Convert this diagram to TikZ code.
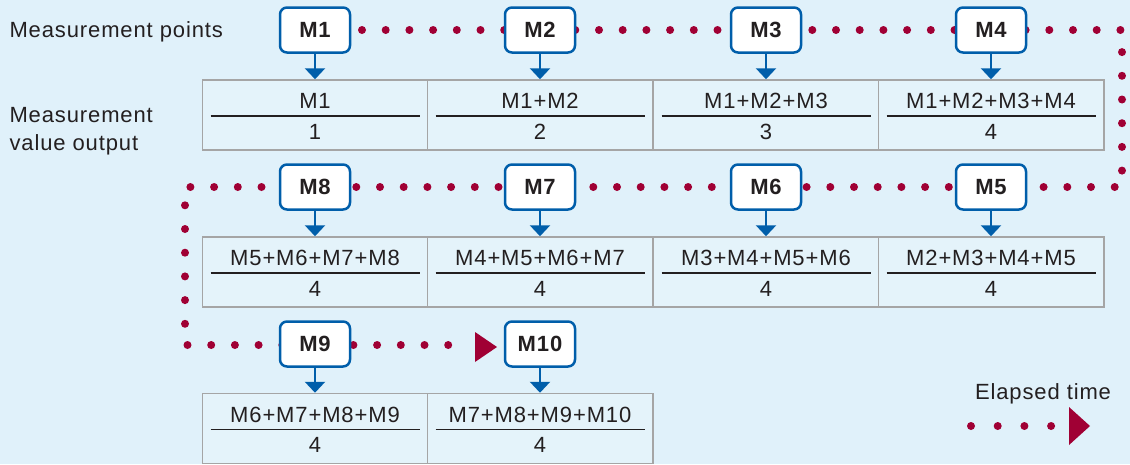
\documentclass[tikz,border=0pt]{standalone}
\usepackage{fontspec}
\setmainfont{Liberation Sans}[LetterSpace=4]
\usetikzlibrary{arrows.meta}
\definecolor{bgblue}{RGB}{224,241,250}
\definecolor{cellblue}{RGB}{228,243,250}
\definecolor{mblue}{RGB}{0,94,170}
\definecolor{dotred}{RGB}{160,0,52}
\definecolor{cellgray}{RGB}{165,165,165}
\definecolor{ink}{RGB}{35,31,32}
\pgfdeclarelayer{backfill}
\pgfdeclarelayer{timeline}
\pgfsetlayers{backfill,timeline,main}

\tikzset{
  mpoint/.style={draw=mblue, line width=2.5pt, fill=white, rounded corners=7pt,
    minimum width=70pt, minimum height=45pt, inner sep=0pt,
    font=\fontsize{22}{28}\selectfont\bfseries},
  cell/.style={draw=cellgray, line width=1.5pt, fill=cellblue,
    minimum width=225.5pt, minimum height=70pt},
  fracline/.style={draw=ink, line width=1.4pt},
  drop/.style={draw=mblue, line width=2.5pt, -{Triangle[width=20pt,length=11pt]}},
  timedots/.style={draw=dotred, line width=8pt, line cap=round, dash pattern=on 0pt off 23.7pt},
}

% one output cell: name, centre, numerator, denominator
\newcommand{\avgcell}[4]{%
  \node[cell] (#1) at (#2) {};
  \draw[fracline] ([xshift=9pt,yshift=-1pt]#1.west) -- ([xshift=-9pt,yshift=-1pt]#1.east);
  \node (#1n) at ([yshift=14pt]#1.center) {#3};
  \node (#1d) at ([yshift=-16.5pt]#1.center) {#4};
}

\begin{document}
\begin{tikzpicture}[x=1pt, y=-1pt, font=\fontsize{22}{28}\selectfont, text=ink]
\begin{pgfonlayer}{backfill}
  \fill[bgblue] (0,0) rectangle (1130,464);
\end{pgfonlayer}
\useasboundingbox (0,0) rectangle (1130,464);

% row labels
\node[anchor=west] (lpts) at (6,32) {Measurement points};
\node[anchor=west, align=left] (lout) at (6,131) {Measurement\\value output};

% measurement points
\foreach \n/\x/\y in {1/315/30, 2/540/30, 3/766/30, 4/991/30,
                      5/991/187, 6/766/187, 7/540/187, 8/315/187,
                      9/315/344, 10/540/344}
  \node[mpoint] (m\n) at (\x,\y) {M\n};

% output values
\avgcell{c1}{315,115}{M1}{1}
\avgcell{c2}{540,115}{M1+M2}{2}
\avgcell{c3}{766,115}{M1+M2+M3}{3}
\avgcell{c4}{991,115}{M1+M2+M3+M4}{4}
\avgcell{c8}{315,272}{M5+M6+M7+M8}{4}
\avgcell{c7}{540,272}{M4+M5+M6+M7}{4}
\avgcell{c6}{766,272}{M3+M4+M5+M6}{4}
\avgcell{c5}{991,272}{M2+M3+M4+M5}{4}
\avgcell{c9}{315,428.5}{M6+M7+M8+M9}{4}
\avgcell{c10}{540,428.5}{M7+M8+M9+M10}{4}

\foreach \n in {1,...,10}
  \draw[drop] (m\n) -- (c\n);

% elapsed time line
\begin{pgfonlayer}{timeline}
  \draw[timedots] (362,30) -- (1122,30) -- (1122,187) -- (185,187) -- (185,345) -- (462,345);
\end{pgfonlayer}
\fill[dotred] (475,332) -- (497,347) -- (475,362) -- cycle;

% legend
\node (lgd) at (1043,394) {Elapsed time};
\draw[timedots, dash pattern=on 0pt off 26.7pt] (971,426) -- (1052,426);
\fill[dotred] (1069,407) -- (1090,426) -- (1069,445) -- cycle;
\end{tikzpicture}
\end{document}
